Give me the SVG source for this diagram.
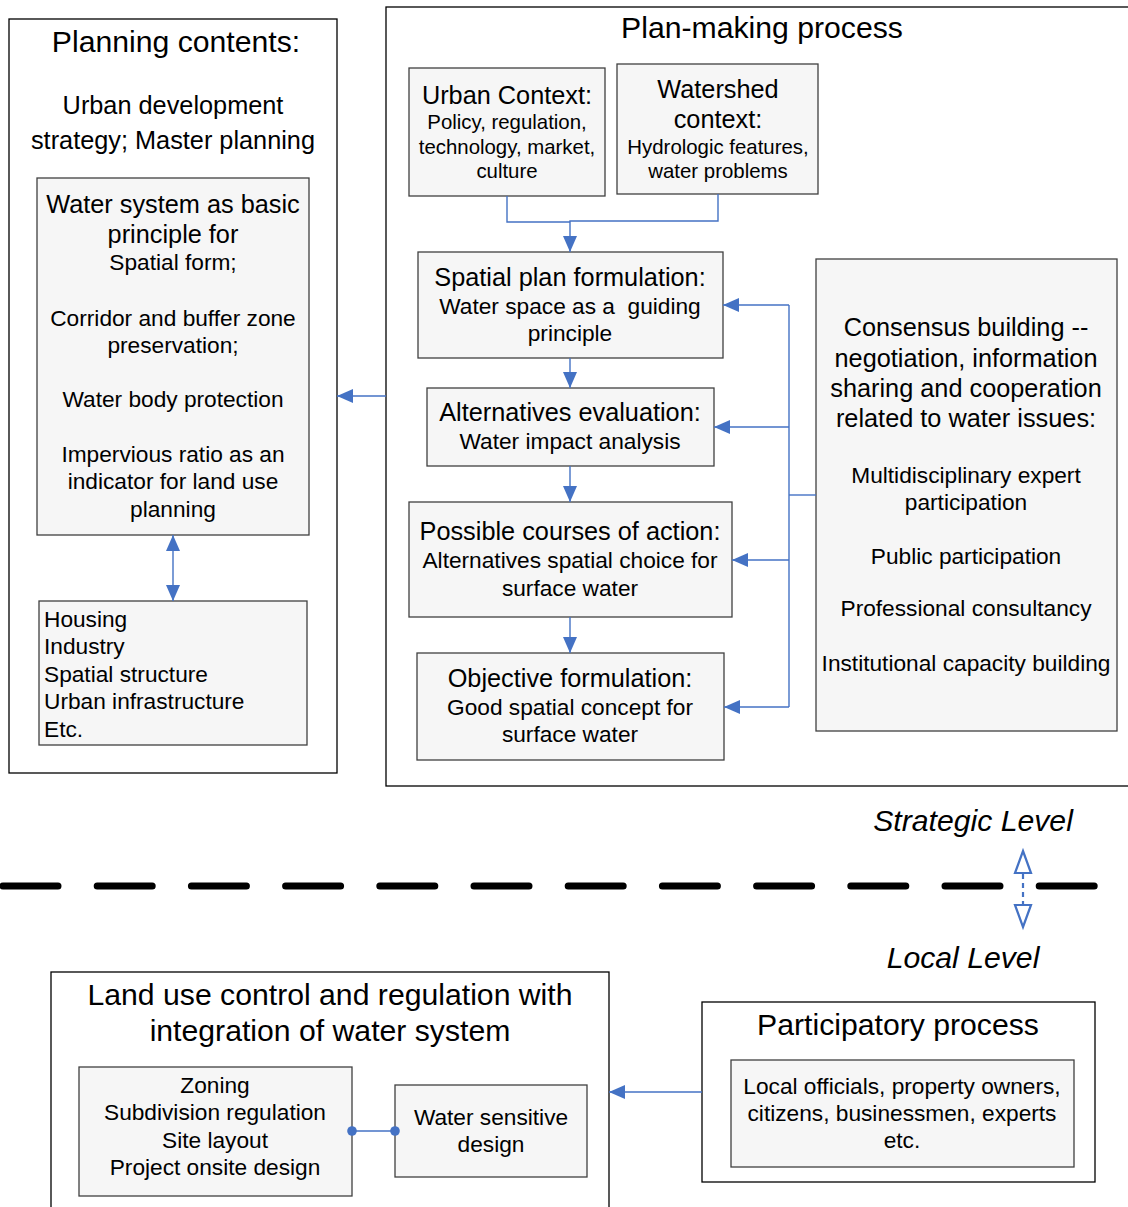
<svg xmlns="http://www.w3.org/2000/svg" width="1128" height="1207" viewBox="0 0 1128 1207">
  <defs>
    <marker id="arr" viewBox="0 0 16 14" refX="16" refY="7" markerWidth="16" markerHeight="14" markerUnits="userSpaceOnUse" orient="auto-start-reverse">
      <path d="M0,0 L16,7 L0,14 Z" fill="#4472c4"/>
    </marker>
    <marker id="dot" viewBox="0 0 10 10" refX="5" refY="5" markerWidth="10" markerHeight="10" markerUnits="userSpaceOnUse">
      <circle cx="5" cy="5" r="4.8" fill="#4472c4"/>
    </marker>
  </defs>
  <style>
    text { font-family: "Liberation Sans", Arial, sans-serif; fill: #000; }
    .c { text-anchor: middle; }
    .t27 { font-size: 30.2px; }
    .t23 { font-size: 25.3px; }
    .t21 { font-size: 22.7px; }
    .t20 { font-size: 22.7px; }
    .t18 { font-size: 20.4px; }
    .outer { fill: #fff; stroke: #000; stroke-width: 1.3; }
    .inner { fill: #f6f6f6; stroke: #404040; stroke-width: 1.3; }
    .link { fill: none; stroke: #4472c4; stroke-width: 1.4; }
  </style>

  <rect width="1128" height="1207" fill="#fff"/>

  <!-- containers -->
  <g id="planning-contents">
    <rect class="outer" x="9" y="19" width="328" height="754"/>
    <text class="c t27" x="176" y="52">Planning contents:</text>
    <text class="c t23" x="173" y="114">Urban development</text>
    <text class="c t23" x="173" y="149">strategy; Master planning</text>
  </g>

  <g id="plan-making">
    <rect class="outer" x="386" y="7" width="750" height="779"/>
    <text class="c t27" x="762" y="38">Plan-making process</text>
  </g>

  <g id="land-use-control">
    <rect class="outer" x="51" y="972" width="558" height="250"/>
    <text class="c t27" x="330" y="1005">Land use control and regulation with</text>
    <text class="c t27" x="330" y="1041">integration of water system</text>
  </g>

  <g id="participatory">
    <rect class="outer" x="702" y="1002" width="393" height="180"/>
    <text class="c t27" x="898" y="1035">Participatory process</text>
  </g>

  <!-- inner nodes -->
  <g id="water-system">
    <rect class="inner" x="37" y="178" width="272" height="357"/>
    <text class="c t23" x="173" y="213">Water system as basic</text>
    <text class="c t23" x="173" y="243">principle for</text>
    <text class="c t20" x="173" y="270">Spatial form;</text>
    <text class="c t20" x="173" y="326">Corridor and buffer zone</text>
    <text class="c t20" x="173" y="353">preservation;</text>
    <text class="c t20" x="173" y="407">Water body protection</text>
    <text class="c t20" x="173" y="462">Impervious ratio as an</text>
    <text class="c t20" x="173" y="489">indicator for land use</text>
    <text class="c t20" x="173" y="517">planning</text>
  </g>

  <g id="housing">
    <rect class="inner" x="39" y="601" width="268" height="144"/>
    <text class="t21" x="44" y="627">Housing</text>
    <text class="t21" x="44" y="654">Industry</text>
    <text class="t21" x="44" y="682">Spatial structure</text>
    <text class="t21" x="44" y="709">Urban infrastructure</text>
    <text class="t21" x="44" y="737">Etc.</text>
  </g>

  <g id="urban-context">
    <rect class="inner" x="409" y="68" width="196" height="128"/>
    <text class="c t23" x="507" y="104">Urban Context:</text>
    <text class="c t18" x="507" y="129">Policy, regulation,</text>
    <text class="c t18" x="507" y="154">technology, market,</text>
    <text class="c t18" x="507" y="178">culture</text>
  </g>

  <g id="watershed-context">
    <rect class="inner" x="617" y="64" width="201" height="130"/>
    <text class="c t23" x="718" y="98">Watershed</text>
    <text class="c t23" x="718" y="128">context:</text>
    <text class="c t18" x="718" y="154">Hydrologic features,</text>
    <text class="c t18" x="718" y="178">water problems</text>
  </g>

  <g id="spatial-plan">
    <rect class="inner" x="418" y="252" width="305" height="106"/>
    <text class="c t23" x="570" y="286">Spatial plan formulation:</text>
    <text class="c t20" x="570" y="314" xml:space="preserve">Water space as a  guiding</text>
    <text class="c t20" x="570" y="341">principle</text>
  </g>

  <g id="alternatives-evaluation">
    <rect class="inner" x="427" y="388" width="287" height="78"/>
    <text class="c t23" x="570" y="421">Alternatives evaluation:</text>
    <text class="c t20" x="570" y="449">Water impact analysis</text>
  </g>

  <g id="courses-of-action">
    <rect class="inner" x="409" y="502" width="323" height="115"/>
    <text class="c t23" x="570" y="540">Possible courses of action:</text>
    <text class="c t20" x="570" y="568">Alternatives spatial choice for</text>
    <text class="c t20" x="570" y="596">surface water</text>
  </g>

  <g id="objective-formulation">
    <rect class="inner" x="417" y="653" width="307" height="107"/>
    <text class="c t23" x="570" y="687">Objective formulation:</text>
    <text class="c t20" x="570" y="715">Good spatial concept for</text>
    <text class="c t20" x="570" y="742">surface water</text>
  </g>

  <g id="consensus-building">
    <rect class="inner" x="816" y="259" width="301" height="472"/>
    <text class="c t23" x="966" y="336">Consensus building --</text>
    <text class="c t23" x="966" y="367">negotiation, information</text>
    <text class="c t23" x="966" y="397">sharing and cooperation</text>
    <text class="c t23" x="966" y="427">related to water issues:</text>
    <text class="c t20" x="966" y="483">Multidisciplinary expert</text>
    <text class="c t20" x="966" y="510">participation</text>
    <text class="c t20" x="966" y="564">Public participation</text>
    <text class="c t20" x="966" y="616">Professional consultancy</text>
    <text class="c t20" x="966" y="671">Institutional capacity building</text>
  </g>

  <g id="zoning">
    <rect class="inner" x="79" y="1067" width="273" height="129"/>
    <text class="c t21" x="215" y="1093">Zoning</text>
    <text class="c t21" x="215" y="1120">Subdivision regulation</text>
    <text class="c t21" x="215" y="1148">Site layout</text>
    <text class="c t21" x="215" y="1175">Project onsite design</text>
  </g>

  <g id="water-sensitive-design">
    <rect class="inner" x="395" y="1085" width="192" height="92"/>
    <text class="c t21" x="491" y="1125">Water sensitive</text>
    <text class="c t21" x="491" y="1152">design</text>
  </g>

  <g id="stakeholders">
    <rect class="inner" x="731" y="1060" width="343" height="107"/>
    <text class="c t21" x="902" y="1094">Local officials, property owners,</text>
    <text class="c t21" x="902" y="1121">citizens, businessmen, experts</text>
    <text class="c t21" x="902" y="1148">etc.</text>
  </g>

  <!-- level labels -->
  <g id="levels">
    <text class="c t27" x="973" y="831" font-style="italic">Strategic Level</text>
    <text class="c t27" x="963" y="968" font-style="italic">Local Level</text>
    <line x1="3" y1="886" x2="1097" y2="886" stroke="#000" stroke-width="7" stroke-linecap="round" stroke-dasharray="55 39.2"/>
  </g>

  <!-- connectors -->
  <g id="connectors">
    <path class="link" d="M507,196 V222 H570"/>
    <path class="link" d="M718,194 V221 H570 V252" marker-end="url(#arr)"/>
    <path class="link" d="M570,358 V388" marker-end="url(#arr)"/>
    <path class="link" d="M570,466 V502" marker-end="url(#arr)"/>
    <path class="link" d="M570,617 V653" marker-end="url(#arr)"/>

    <path class="link" d="M816,495 H789"/>
    <path class="link" d="M789,305 V707"/>
    <path class="link" d="M789,305 H723" marker-end="url(#arr)"/>
    <path class="link" d="M789,427 H714" marker-end="url(#arr)"/>
    <path class="link" d="M789,560 H732" marker-end="url(#arr)"/>
    <path class="link" d="M789,707 H724" marker-end="url(#arr)"/>

    <path class="link" d="M386,396 H337" marker-end="url(#arr)"/>
    <path class="link" d="M173,535 V601" marker-start="url(#arr)" marker-end="url(#arr)"/>

    <path class="link" d="M702,1092 H609" marker-end="url(#arr)"/>
    <path class="link" d="M352,1131 H395" marker-start="url(#dot)" marker-end="url(#dot)"/>

    <!-- level switch -->
    <line x1="1023" y1="874" x2="1023" y2="905" stroke="#4472c4" stroke-width="2.2" stroke-dasharray="5 4"/>
    <path d="M1023,851 L1031,873 L1015,873 Z" fill="#fff" stroke="#4472c4" stroke-width="2.2"/>
    <path d="M1023,927 L1031,905 L1015,905 Z" fill="#fff" stroke="#4472c4" stroke-width="2.2"/>
  </g>
</svg>
